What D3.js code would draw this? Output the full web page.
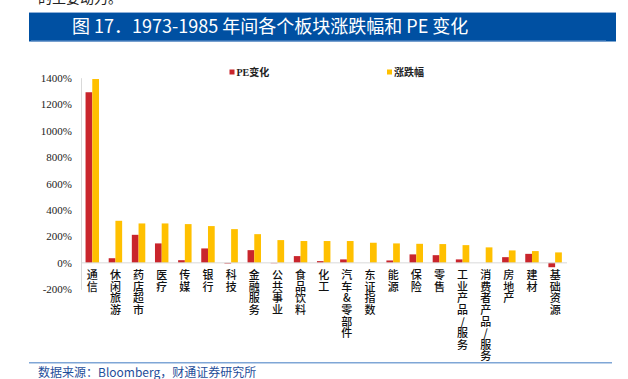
<!DOCTYPE html>
<html><head><meta charset="utf-8">
<script src="https://cdn.jsdelivr.net/npm/d3@7"></script>
<style>
html,body{margin:0;padding:0;background:#fff;}
svg{display:block;}
.vlab{writing-mode:vertical-rl;text-orientation:upright;}
</style></head>
<body>
<svg id="c" width="628" height="379"></svg>
<script>
const sectors = ["通信","休闲旅游","药店超市","医疗","传媒","银行","科技","金融服务","公共事业","食品饮料","化工","汽车&零部件","东证指数","能源","保险","零售","工业产品/服务","消费者产品/服务","房地产","建材","基础资源"];
const peChange = [1290, 35, 212, 147, 20, 109, -5, 96, -3, 51, 13, 26, 0, 18, 64, 58, 26, 0, 43, 68, -33];
const priceChange = [1390, 318, 298, 298, 293, 278, 255, 217, 172, 165, 165, 165, 152, 147, 144, 142, 134, 117, 94, 89, 79];
const yTicks = [-200, 0, 200, 400, 600, 800, 1000, 1200, 1400];
const seriesNames = ["PE变化", "涨跌幅"];
const colors = ["#c9252c", "#ffc000"];

const svg = d3.select("#c");

// top cut-off text
svg.append("text").attr("x", 38).attr("y", 3).attr("font-family", "Noto Sans CJK SC").attr("font-size", 14).attr("fill", "#222").text("的主要动力。");

// title band
svg.append("rect").attr("x", 29).attr("y", 12).attr("width", 587).attr("height", 29.5).attr("fill", "#0050a2");
svg.append("line").attr("x1", 29).attr("x2", 616).attr("y1", 12.5).attr("y2", 12.5).attr("stroke", "#8fb0d8").attr("stroke-width", 1);
svg.append("line").attr("x1", 31).attr("x2", 606).attr("y1", 41).attr("y2", 41).attr("stroke", "#6f98cc").attr("stroke-width", 1);
svg.append("text").attr("x", 72).attr("y", 33).attr("font-family", "Noto Sans CJK SC, Noto Sans").attr("font-size", 18).attr("fill", "#fff")
  .text("图 17．1973-1985 年间各个板块涨跌幅和 PE 变化");

// scales
const y = d3.scaleLinear().domain([-200, 1400]).range([289.3, 77.7]);
const x = d3.scaleBand().domain(sectors).range([80.7, 566.7]).paddingInner(0).paddingOuter(0);
const inner = d3.scaleBand().domain([0, 1]).range([0, x.bandwidth()]).paddingInner(0).paddingOuter(0.72);

// y axis
const yAxis = d3.axisLeft(y).tickValues(yTicks).tickSize(0).tickPadding(9).tickFormat(d => d + "%");
const gy = svg.append("g").attr("transform", "translate(81,0)").call(yAxis);
gy.select(".domain").attr("stroke", "#d9d9d9");
gy.selectAll("text").attr("font-family", "'Liberation Serif', 'DejaVu Serif', serif").attr("font-size", 11).attr("fill", "#222");

// bars
const data = sectors.map((s, i) => ({s, v: [peChange[i], priceChange[i]]}));
const groups = svg.append("g").selectAll("g").data(data).join("g").attr("transform", d => `translate(${x(d.s)},0)`);
groups.selectAll("rect").data(d => d.v.map((v, k) => ({v, k}))).join("rect")
  .attr("x", d => inner(d.k))
  .attr("width", inner.bandwidth())
  .attr("y", d => y(Math.max(0, d.v)))
  .attr("height", d => Math.abs(y(d.v) - y(0)))
  .attr("fill", d => colors[d.k]);

// zero line
svg.append("line").attr("x1", 81).attr("x2", 567).attr("y1", y(0)).attr("y2", y(0)).attr("stroke", "#d9d9d9").attr("stroke-width", 1);

// category labels (vertical text)
svg.append("g").selectAll("text").data(sectors).join("text")
  .attr("class", "vlab")
  .attr("x", d => x(d) + x.bandwidth() / 2)
  .attr("y", 269.5)
  .attr("font-family", "Noto Sans CJK SC").attr("font-size", 11).attr("font-weight", 500)
  .attr("letter-spacing", 0.6)
  .attr("fill", "#111")
  .text(d => d);

// legend
const legend = [{x: 229.5, name: seriesNames[0], c: colors[0]}, {x: 387, name: seriesNames[1], c: colors[1]}];
legend.forEach(l => {
  svg.append("rect").attr("x", l.x).attr("y", 69.5).attr("width", 5).attr("height", 5).attr("fill", l.c);
  svg.append("text").attr("x", l.x + 7).attr("y", 76).attr("font-family", "'Liberation Serif', 'Noto Sans CJK SC'").attr("font-size", 10).attr("font-weight", "bold").attr("fill", "#222").text(l.name);
});

// footer
svg.append("line").attr("x1", 29).attr("x2", 612).attr("y1", 362.7).attr("y2", 362.7).attr("stroke", "#7fa6d6").attr("stroke-width", 1.5);
svg.append("text").attr("x", 38).attr("y", 377).attr("font-family", "Noto Sans CJK SC, Noto Sans").attr("font-size", 12).attr("fill", "#1f4e9a").text("数据来源：Bloomberg，财通证券研究所");
</script>
</body></html>
